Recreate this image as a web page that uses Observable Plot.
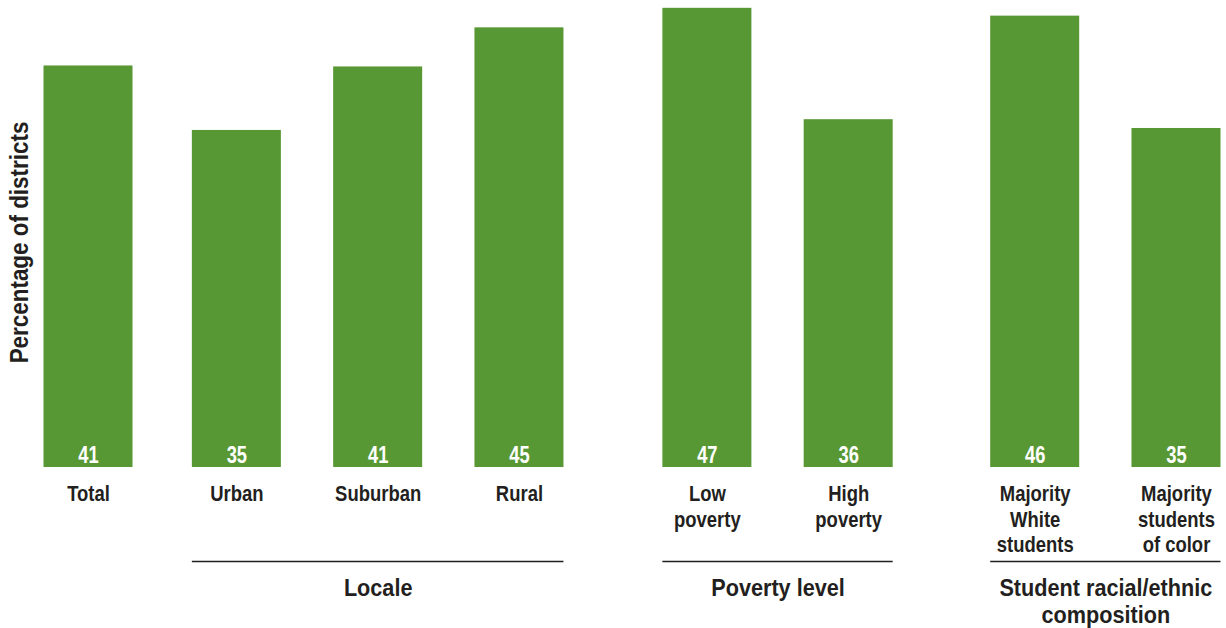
<!DOCTYPE html>
<html>
<head>
<meta charset="utf-8">
<script src="https://cdn.jsdelivr.net/npm/d3@7"></script>
<script src="https://cdn.jsdelivr.net/npm/@observablehq/plot@0.6"></script>
<style>
  html, body { margin: 0; padding: 0; background: #fff; }
  #chart { width: 1226px; height: 628px; }
</style>
</head>
<body>
<div id="chart"></div>
<script>
// ---- data ----
const categories = ["Total", "Urban", "Suburban", "Rural", "Low\npoverty", "High\npoverty", "Majority\nWhite\nstudents", "Majority\nstudents\nof color"];
const groups = ["", "Locale", "Locale", "Locale", "Poverty level", "Poverty level", "Student racial/ethnic\ncomposition", "Student racial/ethnic\ncomposition"];
const values = [41.1, 34.5, 41.0, 45.0, 47.0, 35.6, 46.2, 34.7];
const yLabel = "Percentage of districts";

// ---- layout helpers (spacing between groups, in band units) ----
const groupGap = {"": 0, "Locale": 0.05, "Poverty level": 0.33, "Student racial/ethnic\ncomposition": 0.32};
const half = 0.315;
let offset = 0;
const rows = categories.map((c, i) => {
  if (i === 0 || groups[i] !== groups[i - 1]) offset += groupGap[groups[i]];
  return {category: c, group: groups[i], value: values[i], pos: i + offset};
});
const groupRows = Array.from(d3.group(rows.filter(d => d.group), d => d.group), ([g, rs]) => ({
  group: g,
  x1: d3.min(rs, d => d.pos) - half,
  x2: d3.max(rs, d => d.pos) + half,
  mid: (d3.min(rs, d => d.pos) + d3.max(rs, d => d.pos)) / 2
}));

const green = "#589834";
const ink = "#231f20";
const font = "'Liberation Sans', Arial, sans-serif";

// font sizes and horizontal condensing of each text layer
const fsValue = 23.5, fsCat = 22, fsGroup = 24.6, fsY = 25.5;
const squeeze = {[fsValue]: 0.78, [fsCat]: 0.84, [fsGroup]: 0.88, [fsY]: 0.88};

const chart = Plot.plot({
  width: 1226,
  height: 628,
  marginLeft: 0,
  marginRight: 0,
  marginTop: 0,
  marginBottom: 161,
  style: {fontFamily: font, background: "#fff"},
  x: {type: "linear", domain: [-0.6228, 8.054], axis: null},
  y: {domain: [0, 47.8], axis: null},
  marks: [
    Plot.rectY(rows, {x1: d => d.pos - half, x2: d => d.pos + half, y1: 0, y2: "value", fill: green}),
    Plot.text(rows, {x: "pos", y: 0, text: d => String(Math.round(d.value)), fill: "#fff", fontSize: fsValue, fontWeight: "bold", lineAnchor: "bottom", dy: -5}),
    Plot.text(rows, {x: "pos", y: 0, text: "category", fill: ink, fontSize: fsCat, fontWeight: "bold", lineAnchor: "top", lineHeight: 1.16, dy: 15.4}),
    Plot.ruleY(groupRows, {x1: "x1", x2: "x2", y: 0, dy: 94, stroke: ink, strokeWidth: 1.3}),
    Plot.text(groupRows, {x: "mid", y: 0, text: "group", fill: ink, fontSize: fsGroup, fontWeight: "bold", lineAnchor: "top", lineHeight: 1.12, dy: 108.5}),
    Plot.text([yLabel], {frameAnchor: "left", text: d => d, rotate: -90, fill: ink, fontSize: fsY, fontWeight: "bold", textAnchor: "middle", lineAnchor: "middle", dx: 19.3, dy: 8.5})
  ]
});

// condense the type horizontally (reference uses a condensed bold face)
chart.querySelectorAll("text").forEach(t => {
  let el = t, fs = null;
  while (el && el !== chart && fs == null) {
    fs = el.getAttribute && el.getAttribute("font-size");
    el = el.parentNode;
  }
  const s = squeeze[+fs];
  if (!s) return;
  const tr = t.getAttribute("transform");
  if (tr) {
    t.setAttribute("transform", `${tr} scale(${s},1)`);
  } else {
    const x = +(t.getAttribute("x") || 0), y = +(t.getAttribute("y") || 0);
    t.setAttribute("transform", `translate(${x},${y}) scale(${s},1)`);
    t.setAttribute("x", 0); t.setAttribute("y", 0);
  }
});
document.getElementById("chart").appendChild(chart);
</script>
</body>
</html>
